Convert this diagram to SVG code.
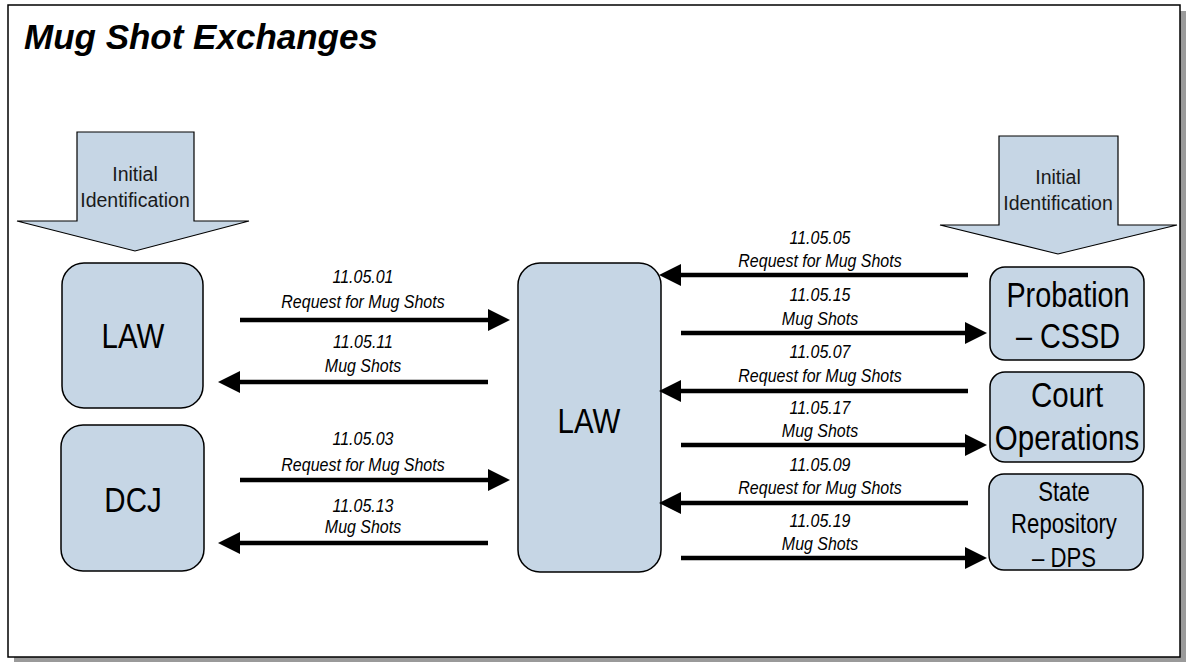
<svg xmlns="http://www.w3.org/2000/svg" width="1191" height="662" viewBox="0 0 1191 662">
  <style>
    .frame { fill: #ffffff; stroke: #000000; stroke-width: 1.5; }
    .shadow { fill: #9a9a9a; }
    .title { font-family: "Liberation Sans", Arial, sans-serif; font-size: 35px; font-weight: bold; font-style: italic; fill: #000; }
    .box { fill: #C6D6E5; stroke: #000000; stroke-width: 1.5; }
    .block { fill: #C6D6E5; stroke: #000000; stroke-width: 1.2; stroke-linejoin: miter; }
    text { font-family: "Liberation Sans", Arial, sans-serif; fill: #000; text-anchor: middle; }
    .blocktxt { font-size: 19.5px; fill: #1a1a1a; }
    .big { font-size: 36px; }
    .mid { font-size: 27px; }
    .lbl { font-size: 18.8px; font-style: italic; }
    .flow { stroke: #000000; stroke-width: 4.5; fill: none; marker-end: url(#head); }
  </style>
  <defs>
    <marker id="head" viewBox="0 0 22 22" markerWidth="22" markerHeight="22" markerUnits="userSpaceOnUse" refX="12" refY="11" orient="auto">
      <path d="M0,0 L22,11 L0,22 z" fill="#000000"/>
    </marker>
  </defs>

  <!-- page frame with drop shadow -->
  <rect class="shadow" x="14" y="11" width="1172" height="652"/>
  <rect class="frame" x="8" y="5" width="1172" height="652"/>

  <text class="title" x="24" y="49" style="text-anchor:start">Mug Shot Exchanges</text>

  <!-- entry arrows -->
  <g id="entry-left">
    <path class="block" d="M77,132 L194,132 L194,221 L249,221 L135,251 L17,221 L77,221 Z"/>
    <text class="blocktxt" x="135" y="181">Initial</text>
    <text class="blocktxt" x="135" y="207">Identification</text>
  </g>
  <g id="entry-right">
    <path class="block" d="M999,136 L1118,136 L1118,225 L1177,225 L1058,254 L940,225 L999,225 Z"/>
    <text class="blocktxt" x="1058" y="184">Initial</text>
    <text class="blocktxt" x="1058" y="210">Identification</text>
  </g>

  <!-- nodes (condensed lettering via horizontal scale) -->
  <g id="law-left">
    <rect class="box" x="62" y="263" width="141" height="145" rx="22"/>
    <text class="big" transform="translate(133,348) scale(0.82,1)">LAW</text>
  </g>
  <g id="dcj">
    <rect class="box" x="61" y="425" width="143" height="146" rx="22"/>
    <text class="big" transform="translate(133,512) scale(0.82,1)">DCJ</text>
  </g>
  <g id="law-center">
    <rect class="box" x="518" y="263" width="143" height="309" rx="22"/>
    <text class="big" transform="translate(589,433) scale(0.82,1)">LAW</text>
  </g>
  <g id="probation">
    <rect class="box" x="990" y="267" width="154" height="93" rx="15"/>
    <text class="big" transform="translate(1068,307) scale(0.8,1)">Probation</text>
    <text class="big" transform="translate(1068,348) scale(0.8,1)">– CSSD</text>
  </g>
  <g id="court">
    <rect class="box" x="990" y="372" width="154" height="90" rx="15"/>
    <text class="big" transform="translate(1067,407) scale(0.82,1)">Court</text>
    <text class="big" transform="translate(1067,450) scale(0.82,1)">Operations</text>
  </g>
  <g id="state-repo">
    <rect class="box" x="989" y="474" width="154" height="96" rx="15"/>
    <text class="mid" transform="translate(1064,501) scale(0.82,1)">State</text>
    <text class="mid" transform="translate(1064,533) scale(0.82,1)">Repository</text>
    <text class="mid" transform="translate(1064,567) scale(0.82,1)">– DPS</text>
  </g>

  <!-- connectors -->
  <g id="connectors">
    <line class="flow" x1="240" y1="320" x2="500" y2="320"/>
    <line class="flow" x1="488" y1="382" x2="228" y2="382"/>
    <line class="flow" x1="240" y1="480" x2="500" y2="480"/>
    <line class="flow" x1="488" y1="543" x2="228" y2="543"/>

    <line class="flow" x1="968" y1="275" x2="669" y2="275"/>
    <line class="flow" x1="681" y1="333" x2="977" y2="333"/>
    <line class="flow" x1="968" y1="391" x2="669" y2="391"/>
    <line class="flow" x1="681" y1="445" x2="977" y2="445"/>
    <line class="flow" x1="968" y1="503" x2="669" y2="503"/>
    <line class="flow" x1="681" y1="558" x2="977" y2="558"/>

    <text class="lbl" transform="translate(363,283) scale(0.85,1)">11.05.01</text>
    <text class="lbl" transform="translate(363,308) scale(0.85,1)">Request for Mug Shots</text>
    <text class="lbl" transform="translate(363,348) scale(0.85,1)">11.05.11</text>
    <text class="lbl" transform="translate(363,372) scale(0.85,1)">Mug Shots</text>
    <text class="lbl" transform="translate(363,445) scale(0.85,1)">11.05.03</text>
    <text class="lbl" transform="translate(363,471) scale(0.85,1)">Request for Mug Shots</text>
    <text class="lbl" transform="translate(363,512) scale(0.85,1)">11.05.13</text>
    <text class="lbl" transform="translate(363,533) scale(0.85,1)">Mug Shots</text>

    <text class="lbl" transform="translate(820,244) scale(0.85,1)">11.05.05</text>
    <text class="lbl" transform="translate(820,267) scale(0.85,1)">Request for Mug Shots</text>
    <text class="lbl" transform="translate(820,301) scale(0.85,1)">11.05.15</text>
    <text class="lbl" transform="translate(820,325) scale(0.85,1)">Mug Shots</text>
    <text class="lbl" transform="translate(820,358) scale(0.85,1)">11.05.07</text>
    <text class="lbl" transform="translate(820,382) scale(0.85,1)">Request for Mug Shots</text>
    <text class="lbl" transform="translate(820,414) scale(0.85,1)">11.05.17</text>
    <text class="lbl" transform="translate(820,437) scale(0.85,1)">Mug Shots</text>
    <text class="lbl" transform="translate(820,471) scale(0.85,1)">11.05.09</text>
    <text class="lbl" transform="translate(820,494) scale(0.85,1)">Request for Mug Shots</text>
    <text class="lbl" transform="translate(820,527) scale(0.85,1)">11.05.19</text>
    <text class="lbl" transform="translate(820,550) scale(0.85,1)">Mug Shots</text>
  </g>
</svg>
